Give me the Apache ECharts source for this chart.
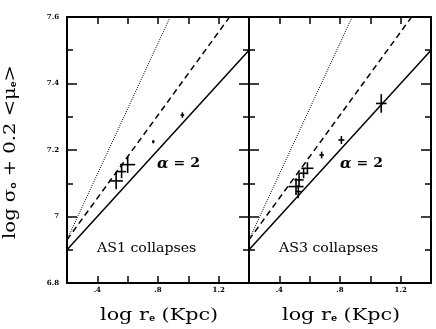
<!DOCTYPE html>
<html>
<head>
<meta charset="utf-8">
<script src="https://cdn.jsdelivr.net/npm/echarts@6/dist/echarts.min.js"></script>
<style>
    html, body { margin: 0; padding: 0; background: #fff; }
    #chart { width: 436px; height: 329px; }
</style>
</head>
<body>
<div id="chart"></div>
<script>
    // axis ranges (both panels share them)
    var xRange = [0.2, 1.4];
    var yRange = [6.8, 7.6];
    var xTickLabels = { '0.4': '.4', '0.8': '.8', '1.2': '1.2' };
    var yTickLabels = { '6.8': '6.8', '7': '7', '7.2': '7.2', '7.4': '7.4', '7.6': '7.6' };

    // model lines, same on both panels
    var solidLine = [[0.2, 6.9], [1.4, 7.5]];
    var dashedLine = [[0.2, 6.93], [1.4, 7.68]];
    var dottedLine = [[0.2, 6.93], [0.88, 7.6]];

    // [log re, log sigma + 0.2 mu, err x, err y]
    var as1Points = [
        [0.600, 7.156, 0.05, 0.025],
        [0.524, 7.107, 0.045, 0.025],
        [0.560, 7.135, 0.03, 0.02],
        [0.961, 7.305, 0.012, 0.008],
        [0.769, 7.225, 0.008, 0.005]
    ];
    var as3Points = [
        [1.072, 7.340, 0.035, 0.028],
        [0.809, 7.230, 0.02, 0.012],
        [0.679, 7.185, 0.015, 0.01],
        [0.585, 7.145, 0.04, 0.018],
        [0.560, 7.130, 0.03, 0.015],
        [0.530, 7.110, 0.03, 0.02],
        [0.510, 7.090, 0.05, 0.025],
        [0.525, 7.075, 0.02, 0.02]
    ];

    var serif = '"DejaVu Serif", "Liberation Serif", serif';

    function fmt(v, table) {
        var k = String(Math.round(v * 10) / 10);
        return table[k] || '';
    }

    function xAxisFor(gridIndex, pos) {
        return {
            type: 'value', gridIndex: gridIndex, position: pos,
            min: xRange[0], max: xRange[1], interval: 0.2,
            axisLine: { show: true, onZero: false, lineStyle: { color: '#000', width: 2 } },
            axisTick: { show: true, inside: true, length: 7, lineStyle: { color: '#000', width: 1.5 } },
            axisLabel: {
                show: pos === 'bottom', margin: 4, color: '#000',
                fontSize: 7, fontWeight: 'bold', fontFamily: serif,
                showMinLabel: false, showMaxLabel: false,
                formatter: function (v) { return fmt(v, xTickLabels); }
            },
            splitLine: { show: false }
        };
    }

    function yAxisFor(gridIndex, pos, labels) {
        return {
            type: 'value', gridIndex: gridIndex, position: pos,
            min: yRange[0], max: yRange[1], interval: 0.2,
            axisLine: { show: true, onZero: false, lineStyle: { color: '#000', width: 2 } },
            axisTick: { show: true, inside: true, length: 10, lineStyle: { color: '#000', width: 1.5 } },
            minorTick: { show: true, splitNumber: 2, length: 6, lineStyle: { color: '#000', width: 1.5 } },
            axisLabel: {
                show: labels, margin: 8, color: '#000',
                fontSize: 7, fontWeight: 'bold', fontFamily: serif,
                formatter: function (v) { return fmt(v, yTickLabels); }
            },
            splitLine: { show: false }
        };
    }

    function errorCross(params, api) {
        var x = api.value(0), y = api.value(1), ex = api.value(2), ey = api.value(3);
        var l = api.coord([x - ex, y]), r = api.coord([x + ex, y]);
        var b = api.coord([x, y - ey]), t = api.coord([x, y + ey]);
        var style = { stroke: '#000', lineWidth: 1.6 };
        return {
            type: 'group',
            children: [
                { type: 'line', shape: { x1: l[0], y1: l[1], x2: r[0], y2: r[1] }, style: style },
                { type: 'line', shape: { x1: b[0], y1: b[1], x2: t[0], y2: t[1] }, style: style }
            ]
        };
    }

    function panelSeries(i, points) {
        return [
            { type: 'line', xAxisIndex: i * 2, yAxisIndex: i * 2, data: solidLine, symbol: 'none',
              lineStyle: { color: '#000', width: 1.5 }, silent: true },
            { type: 'line', xAxisIndex: i * 2, yAxisIndex: i * 2, data: dashedLine, symbol: 'none',
              lineStyle: { color: '#000', width: 1.5, type: [6, 4] }, silent: true },
            { type: 'line', xAxisIndex: i * 2, yAxisIndex: i * 2, data: dottedLine, symbol: 'none',
              lineStyle: { color: '#000', width: 1, type: [1, 1.2] }, silent: true },
            { type: 'custom', xAxisIndex: i * 2, yAxisIndex: i * 2, data: points,
              renderItem: errorCross, silent: true }
        ];
    }

    var alphaRich = { a: { fontStyle: 'italic', fontWeight: 'bold', fontSize: 14, fontFamily: serif } };
    var subRich = { s: { fontSize: 9, fontWeight: 'bold', padding: [6, 0, 0, 0] } };

    var chart = echarts.init(document.getElementById('chart'));

    var option = {
        animation: false,
        backgroundColor: '#fff',
        grid: [
            { left: 67, top: 17, width: 182, height: 266 },
            { left: 249, top: 17, width: 182, height: 266 }
        ],
        xAxis: [
            xAxisFor(0, 'bottom'), xAxisFor(0, 'top'),
            xAxisFor(1, 'bottom'), xAxisFor(1, 'top')
        ],
        yAxis: [
            yAxisFor(0, 'left', true), yAxisFor(0, 'right', false),
            yAxisFor(1, 'left', false), yAxisFor(1, 'right', false)
        ],
        series: panelSeries(0, as1Points).concat(panelSeries(1, as3Points)),
        graphic: [
            { type: 'text', left: 157, top: 157, scaleX: 1.08,
              style: { text: '{a|α} = 2', font: 'bold 13px ' + serif, fill: '#000', rich: alphaRich } },
            { type: 'text', left: 340, top: 157, scaleX: 1.08,
              style: { text: '{a|α} = 2', font: 'bold 13px ' + serif, fill: '#000', rich: alphaRich } },
            { type: 'text', left: 97, top: 243, scaleX: 1.18,
              style: { text: 'AS1 collapses', font: '12px ' + serif, fill: '#000' } },
            { type: 'text', left: 279, top: 243, scaleX: 1.18,
              style: { text: 'AS3 collapses', font: '12px ' + serif, fill: '#000' } },
            { type: 'text', left: 100, top: 307, scaleX: 1.22,
              style: { text: 'log r{s|e} (Kpc)', font: '17px ' + serif, fill: '#000', rich: subRich } },
            { type: 'text', left: 282, top: 307, scaleX: 1.22,
              style: { text: 'log r{s|e} (Kpc)', font: '17px ' + serif, fill: '#000', rich: subRich } },
            { type: 'text', x: 11, y: 152, rotation: Math.PI / 2, scaleX: 1.15,
              style: { text: 'log σ{s|o} + 0.2 <μ{s|e}>', font: '17px ' + serif, fill: '#000',
                       align: 'center', verticalAlign: 'middle', rich: subRich } }
        ]
    };

    chart.setOption(option);
</script>
</body>
</html>
